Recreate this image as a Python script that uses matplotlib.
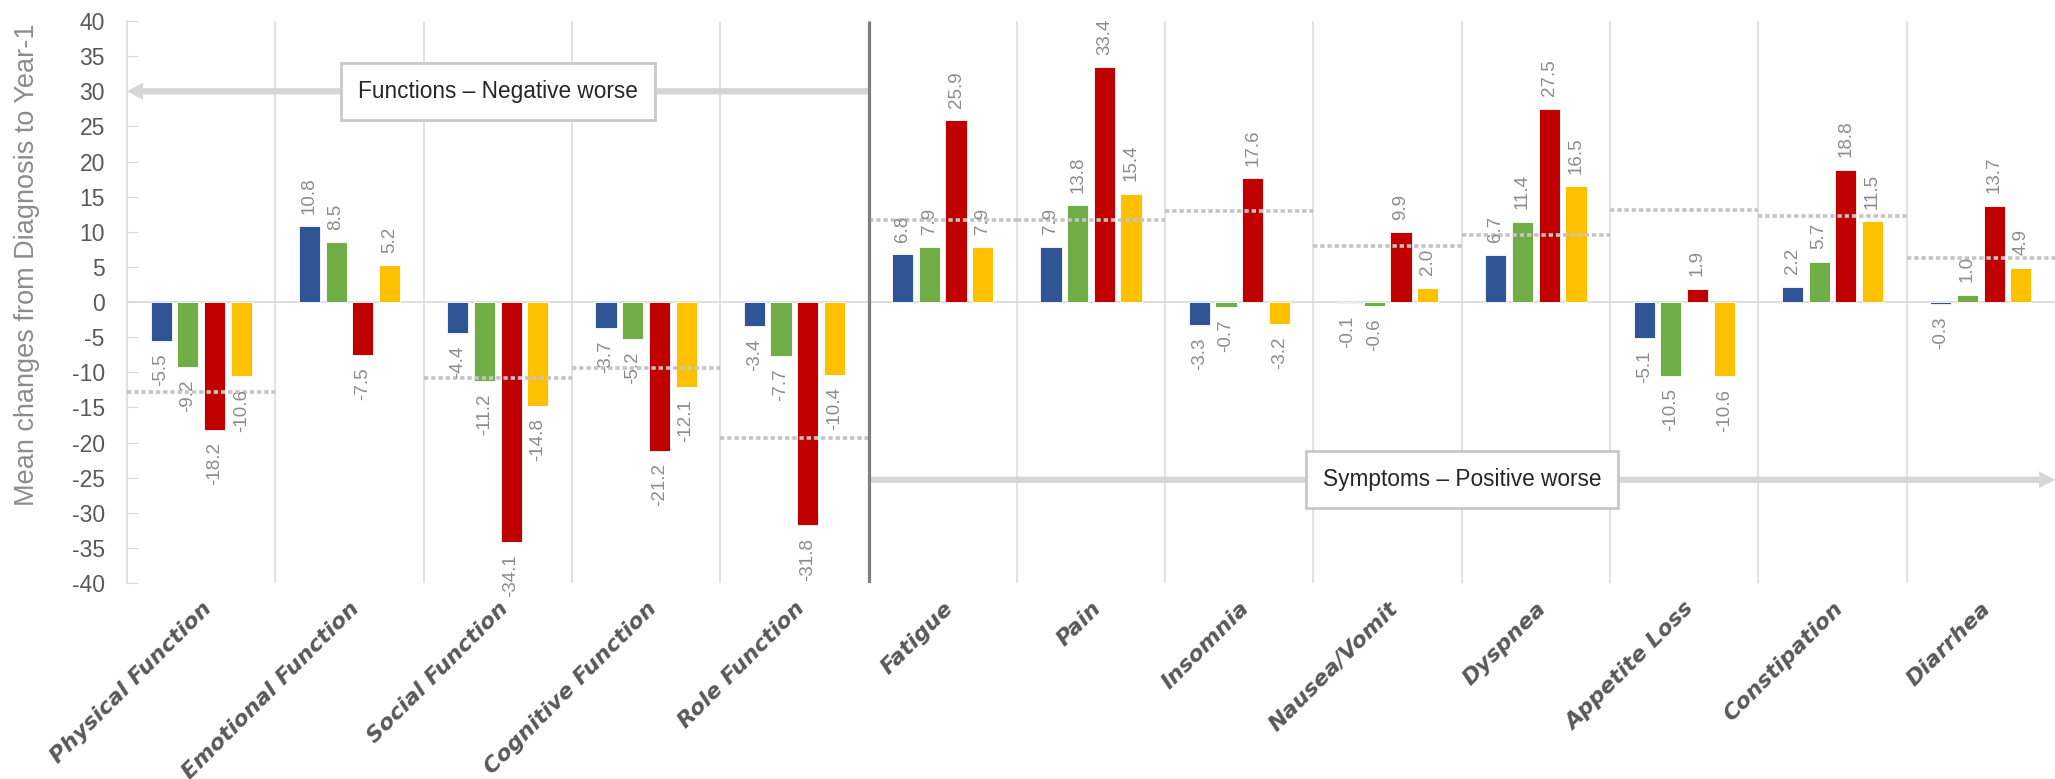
import numpy as np
import matplotlib
matplotlib.use("Agg")
import matplotlib.pyplot as plt

CATEGORIES = [
    "Physical Function", "Emotional Function", "Social Function",
    "Cognitive Function", "Role Function", "Fatigue", "Pain", "Insomnia",
    "Nausea/Vomit", "Dyspnea", "Appetite Loss", "Constipation", "Diarrhea",
]

BLUE_VALS = [-5.5, 10.8, -4.4, -3.7, -3.4, 6.8, 7.9, -3.3, -0.1, 6.7, -5.1, 2.2, -0.3]
GREEN_VALS = [-9.2, 8.5, -11.2, -5.2, -7.7, 7.9, 13.8, -0.7, -0.6, 11.4, -10.5, 5.7, 1.0]
RED_VALS = [-18.2, -7.5, -34.1, -21.2, -31.8, 25.9, 33.4, 17.6, 9.9, 27.5, 1.9, 18.8, 13.7]
YELLOW_VALS = [-10.6, 5.2, -14.8, -12.1, -10.4, 7.9, 15.4, -3.2, 2.0, 16.5, -10.6, 11.5, 4.9]

# dotted reference level per category (none shown for Emotional Function)
REFERENCE = [-12.8, np.nan, -10.8, -9.4, -19.3, 11.7, 11.7, 12.9, 8.0, 9.5, 13.1, 12.2, 6.3]

SERIES = [BLUE_VALS, GREEN_VALS, RED_VALS, YELLOW_VALS]
COLORS = ["#2F5597", "#70AD47", "#C00000", "#FFC000"]

ARIAL = ["Liberation Sans", "DejaVu Sans"]
plt.rcParams["axes.unicode_minus"] = False

fig = plt.figure(figsize=(20.55, 7.79), dpi=100)
ax = fig.add_axes([0.0618, 0.2516, 0.9382, 0.7214])

x = np.arange(len(CATEGORIES))
step = 0.18
width = 0.143

for k, (vals, color) in enumerate(zip(SERIES, COLORS)):
    xs = x + (k - 1.5) * step
    ax.bar(xs, vals, width, color=color, edgecolor="white", linewidth=0.6, zorder=3)
    for xi, v in zip(xs, vals):
        ax.annotate(f"{v:.1f}", (xi, v), xytext=(0, 9 if v >= 0 else -9),
                    textcoords="offset points", rotation=90, ha="center",
                    va="bottom" if v >= 0 else "top", fontsize=13.5,
                    color="#8c8c8c", family=ARIAL, zorder=6)

# dotted reference lines across each category
ref = np.array(REFERENCE)
ok = ~np.isnan(ref)
ax.hlines(ref[ok], x[ok] - 0.5, x[ok] + 0.5, colors="#c4c4c4",
          linestyles=(0, (1.2, 0.8)), linewidth=2.6, zorder=4)

# grid / separators
bounds = [i + 0.5 for i in range(len(CATEGORIES) - 1) if i != 4]
ax.vlines(bounds, -40, 40, color="#d9d9d9", lw=1.1, zorder=1)
ax.axhline(0, color="#d9d9d9", lw=1.2, zorder=2)
ax.vlines(4.5, -40, 40, color="#7f7f7f", lw=2.3, zorder=7)

arrow_style = "simple,head_length=1.15,head_width=1.22,tail_width=0.45"
ax.annotate("", xy=(-0.5, 30), xytext=(4.5, 30),
            arrowprops=dict(arrowstyle=arrow_style, mutation_scale=10,
                            fc="#d6d6d6", ec="none", shrinkA=0, shrinkB=0),
            annotation_clip=False, zorder=2)
ax.annotate("", xy=(12.5, -25.3), xytext=(4.5, -25.3),
            arrowprops=dict(arrowstyle=arrow_style, mutation_scale=10,
                            fc="#d6d6d6", ec="none", shrinkA=0, shrinkB=0),
            annotation_clip=False, zorder=2)

box = dict(boxstyle="square,pad=0.75", fc="white", ec="#c8c8c8", lw=2)
ax.text(2.0, 30, "Functions – Negative worse", ha="center", va="center",
        fontsize=16.3, family=ARIAL, color="#262626", bbox=box, zorder=8)
ax.text(8.5, -25.3, "Symptoms – Positive worse", ha="center", va="center",
        fontsize=16.3, family=ARIAL, color="#262626", bbox=box, zorder=8)

ax.set_xlim(-0.5, 12.5)
ax.set_ylim(-40, 40)
ax.set_yticks(range(-40, 41, 5))
ax.tick_params(axis="y", direction="in", length=8, color="#d9d9d9",
               labelsize=16.5, labelcolor="#595959", pad=16)
for lbl in ax.get_yticklabels():
    lbl.set_family(ARIAL)

ax.set_xticks(x)
ax.set_xticklabels(CATEGORIES, rotation=45, ha="right", va="top",
                   rotation_mode="anchor", fontsize=16, fontweight="bold",
                   fontstyle="italic", color="#595959")
ax.tick_params(axis="x", length=0, pad=11)

for side in ("top", "right", "bottom"):
    ax.spines[side].set_visible(False)
ax.spines["left"].set_color("#d9d9d9")
ax.spines["left"].set_linewidth(1.2)

ax.set_ylabel("Mean changes from Diagnosis to Year-1", fontsize=19.5,
              color="#8c8c8c", family=ARIAL)
ax.yaxis.set_label_coords(-0.045, 0.566)

fig.savefig("out.png", dpi=100)
